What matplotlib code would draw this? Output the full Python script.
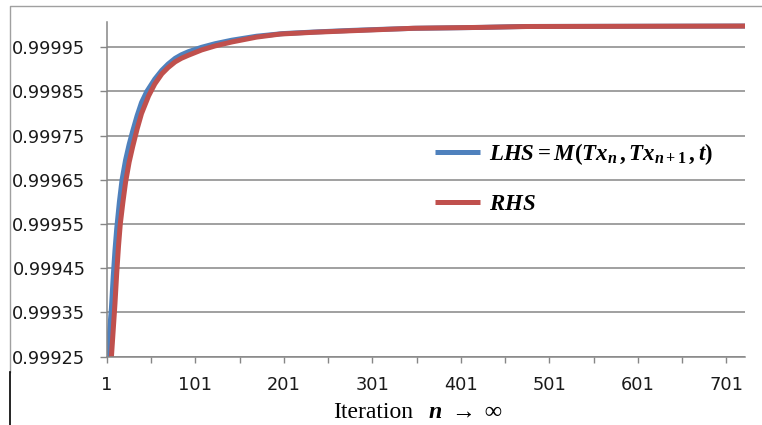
import matplotlib
matplotlib.use('Agg')
import matplotlib.pyplot as plt
from matplotlib.lines import Line2D

plt.rcParams['font.family'] = 'DejaVu Sans'
plt.rcParams['mathtext.fontset'] = 'custom'
plt.rcParams['mathtext.rm'] = 'Liberation Serif:bold'
plt.rcParams['mathtext.it'] = 'Liberation Serif:italic:bold'
plt.rcParams['mathtext.bf'] = 'Liberation Serif:bold'

# values (iteration n, value)
n_lhs = [1, 2, 4, 6, 8, 10, 12, 15, 18, 22, 26, 30, 35, 40, 46, 55, 63, 70, 78, 85,
         93, 108, 123, 142, 170, 200, 240, 275, 310, 350, 390, 425, 470, 722]
lhs = [0.99922, 0.999255, 0.99931, 0.99936, 0.99943, 0.99949, 0.99954, 0.99960,
       0.99965, 0.999695, 0.99973, 0.99976, 0.999795, 0.999825, 0.99985, 0.999878,
       0.999898, 0.999912, 0.999925, 0.999933, 0.99994, 0.99995, 0.999958, 0.999966,
       0.999975, 0.999981, 0.999985, 0.999988, 0.9999905, 0.999993, 0.999994,
       0.999995, 0.999997, 0.999998]

n_rhs = [1, 3, 6, 8, 10, 12, 14, 16, 19, 22, 26, 30, 35, 40, 48, 55, 63, 70, 78, 85,
         93, 108, 123, 142, 170, 197, 235, 272, 310, 347, 385, 423, 475, 722]
rhs = [0.99908, 0.99916, 0.99925, 0.99931, 0.99937, 0.99944, 0.99950, 0.99955,
       0.99960, 0.999645, 0.99969, 0.999725, 0.999765, 0.99980, 0.99984, 0.999867,
       0.99989, 0.999904, 0.999917, 0.999925, 0.999932, 0.999944, 0.999953, 0.999962,
       0.999973, 0.99998, 0.999984, 0.999987, 0.99999, 0.999993, 0.999994,
       0.999995, 0.999997, 0.999998]

y_ticks = [0.99925, 0.99935, 0.99945, 0.99955, 0.99965, 0.99975, 0.99985, 0.99995]
x_labels = [1, 101, 201, 301, 401, 501, 601, 701]

W, H = 762, 425
fig = plt.figure(figsize=(W / 100, H / 100), dpi=100)
ax = fig.add_axes([107 / W, 1 - 356.7 / H, (745 - 107) / W, (356.7 - 22) / H])

blue = '#4F81BD'
red = '#C0504D'
ax.plot(n_lhs, lhs, color=blue, linewidth=3.6, solid_capstyle='butt',
        solid_joinstyle='round', label=r'$LHS = M(Tx_n\,,Tx_{n+1}\,,t)$')
ax.plot(n_rhs, rhs, color=red, linewidth=3.6, solid_capstyle='butt',
        solid_joinstyle='round', label=r'$RHS$')

ax.set_xlim(1, 722)
ax.set_ylim(0.99925, 1.0000072)
ax.set_yticks(y_ticks)
ax.set_yticklabels([f'{v:.5f}' for v in y_ticks])
ax.set_xticks(list(range(1, 722, 50)))
ax.set_xticklabels([str(v) if v in x_labels else '' for v in range(1, 722, 50)])

ax.grid(axis='y', color='#868686', linewidth=1.1)
ax.set_axisbelow(True)
for s in ['top', 'right']:
    ax.spines[s].set_visible(False)
for s in ['left', 'bottom']:
    ax.spines[s].set_color('#868686')
    ax.spines[s].set_linewidth(1.1)
ax.tick_params(axis='y', length=5, width=1, color='#868686', pad=10.5,
               labelsize=12.8, labelcolor='#1a1a1a')
ax.tick_params(axis='x', length=4.5, width=1, color='#868686', pad=9.5,
               labelsize=12.8, labelcolor='#1a1a1a')

ax.legend(loc='upper left', bbox_to_anchor=(435 / W, 1 - 141 / H),
          bbox_transform=fig.transFigure, frameon=False, fontsize=16.5,
          handlelength=1.95, handletextpad=0.4, labelspacing=1.1,
          borderpad=0, borderaxespad=0)

fig.text(333 / W, 1 - 418 / H, 'Iteration', family='Liberation Serif',
         fontsize=17, ha='left', va='baseline')
fig.text(428 / W, 1 - 418 / H, r'$n\ \rightarrow\ \infty$',
         fontsize=17.2, ha='left', va='baseline')

# chart border
fig.add_artist(Line2D([10 / W, 10 / W, 1], [1 - 372 / H, 1 - 6 / H, 1 - 6 / H],
                      transform=fig.transFigure, color='#a0a0a0', linewidth=1))
fig.add_artist(Line2D([10 / W, 10 / W], [0, 1 - 372 / H],
                      transform=fig.transFigure, color='black', linewidth=1.2))

fig.savefig('out.png', dpi=100)
